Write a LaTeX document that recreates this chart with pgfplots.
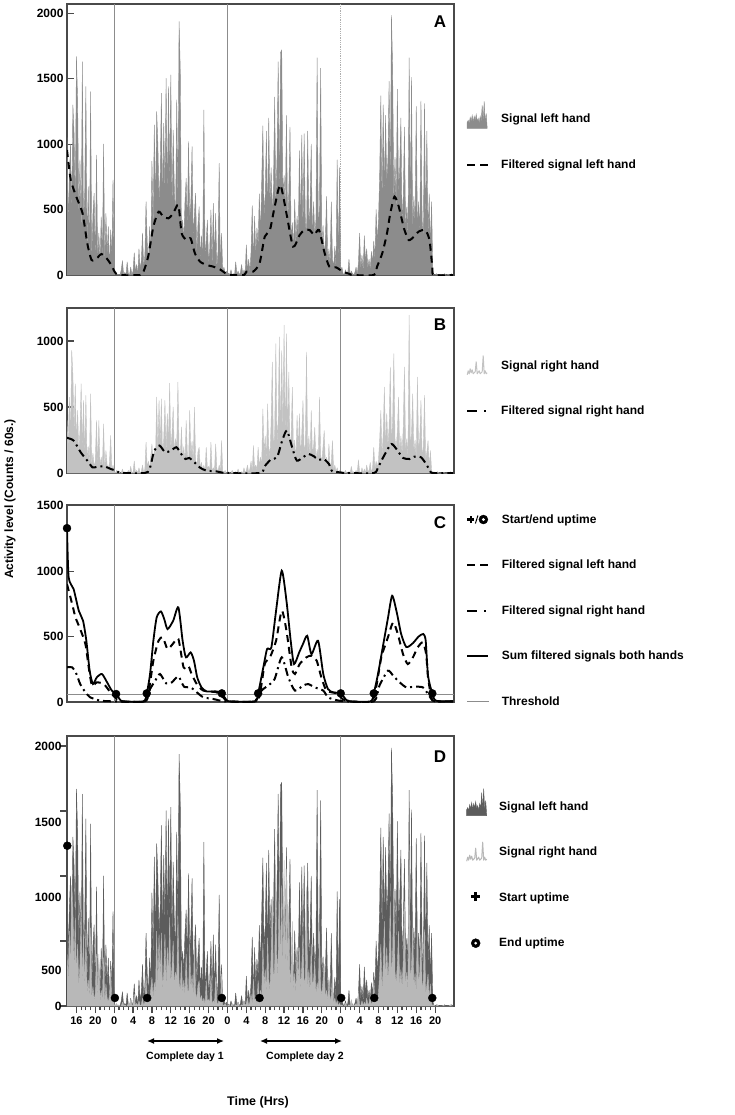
\documentclass[border=0pt]{standalone}
\usepackage{fontspec}
\setmainfont{Liberation Sans}
\usepackage{pgfplots}
\usepackage{pgfplotstable}
\pgfplotsset{compat=1.18}
\usetikzlibrary{arrows.meta}
\definecolor{sigA}{HTML}{8C8C8C}
\definecolor{sigB}{HTML}{C2C2C2}
\definecolor{sigDL}{HTML}{5C5C5C}
\definecolor{sigDR}{HTML}{B8B8B8}
\definecolor{frame}{HTML}{4A4A4A}
\definecolor{dayline}{HTML}{8C8C8C}

% raw signals, sampled every 15 min: time (h), left hand, right hand
\pgfplotstableread{
t L R
14.00 1050 400
14.25 380 200
14.50 760 575
14.75 1000 280
15.00 450 930
15.25 1300 740
15.50 1080 300
15.75 520 676
16.00 1669 220
16.25 1338 474
16.50 430 150
16.75 880 320
17.00 300 676
17.25 1630 180
17.50 350 550
17.75 625 120
18.00 1440 588
18.25 180 90
18.50 675 200
18.75 90 60
19.00 1401 600
19.25 120 70
19.50 470 150
19.75 625 40
20.00 60 100
20.25 917 398
20.50 110 50
20.75 320 398
21.00 70 30
21.25 445 120
21.50 90 40
21.75 1001 372
22.00 60 20
22.25 470 170
22.50 150 60
22.75 370 30
23.00 40 80
23.25 345 284
23.50 120 20
23.75 726 60
24.00 30 10
24.25 0 0
24.50 10 20
24.75 0 0
25.00 5 10
25.25 0 0
25.50 40 0
25.75 110 30
26.00 0 0
26.25 20 10
26.50 0 0
26.75 100 0
27.00 10 20
27.25 0 0
27.50 60 50
27.75 0 0
28.00 30 10
28.25 170 90
28.50 20 0
28.75 80 20
29.00 0 0
29.25 200 40
29.50 40 0
29.75 110 10
30.00 320 60
30.25 60 0
30.50 150 30
30.75 560 233
31.00 250 40
31.25 90 90
31.50 370 20
31.75 160 130
32.00 870 220
32.25 350 60
32.50 1147 180
32.75 480 100
33.00 1249 575
33.25 1006 150
33.50 560 550
33.75 760 200
34.00 1389 562
34.25 500 120
34.50 1160 260
34.75 620 550
35.00 1503 160
35.25 540 450
35.50 1440 220
35.75 700 681
36.00 1529 180
36.25 480 300
36.50 1108 500
36.75 650 140
37.00 420 260
37.25 1338 200
37.50 560 689
37.75 1937 180
38.00 1567 120
38.25 300 349
38.50 420 90
38.75 260 200
39.00 560 80
39.25 739 398
39.50 330 150
39.75 1019 60
40.00 420 474
40.25 560 130
40.50 981 240
40.75 280 70
41.00 470 499
41.25 625 100
41.50 150 50
41.75 380 160
42.00 522 195
42.25 120 30
42.50 300 80
42.75 90 20
43.00 1261 60
43.25 140 10
43.50 260 195
43.75 420 30
44.00 80 50
44.25 200 20
44.50 497 233
44.75 60 10
45.00 548 40
45.25 110 15
45.50 471 220
45.75 50 30
46.00 180 10
46.25 854 60
46.50 40 20
46.75 318 246
47.00 20 10
47.25 60 0
47.50 10 20
47.75 30 0
48.00 0 0
48.25 15 10
48.50 0 0
48.75 40 0
49.00 0 20
49.25 10 0
49.50 0 0
49.75 100 10
50.00 5 0
50.25 30 30
50.50 0 0
50.75 20 0
51.00 80 10
51.25 0 0
51.50 40 40
51.75 10 0
52.00 230 20
52.25 30 60
52.50 120 0
52.75 20 30
53.00 180 90
53.25 530 10
53.50 80 208
53.75 450 40
54.00 150 60
54.25 360 20
54.50 220 195
54.75 620 50
55.00 300 120
55.25 700 60
55.50 1140 486
55.75 450 150
56.00 600 280
56.25 1100 90
56.50 380 524
56.75 1200 200
57.00 520 120
57.25 820 380
57.50 460 841
57.75 680 160
58.00 1360 300
58.25 540 980
58.50 900 220
58.75 1630 400
59.00 620 1031
59.25 1700 250
59.50 1720 927
59.75 580 300
60.00 760 1120
60.25 480 200
60.50 1220 1056
60.75 350 260
61.00 640 765
61.25 1130 150
61.50 250 300
61.75 400 650
62.00 180 120
62.25 580 250
62.50 220 90
62.75 450 436
63.00 280 180
63.25 950 449
63.50 330 120
63.75 1070 300
64.00 300 550
64.25 1080 160
64.50 420 220
64.75 260 917
65.00 1100 130
65.25 380 280
65.50 520 100
65.75 1000 474
66.00 240 150
66.25 560 200
66.50 300 347
66.75 420 90
67.00 1660 180
67.25 350 120
67.50 520 575
67.75 1580 140
68.00 200 80
68.25 380 200
68.50 130 322
68.75 280 60
69.00 600 120
69.25 90 40
69.50 200 220
69.75 70 30
70.00 560 80
70.25 120 246
70.50 60 20
70.75 220 60
71.00 50 10
71.25 880 40
71.50 90 0
71.75 820 20
72.00 30 0
72.25 60 10
72.50 10 0
72.75 0 0
73.00 40 20
73.25 0 0
73.50 20 0
73.75 120 10
74.00 0 0
74.25 30 50
74.50 10 0
74.75 0 10
75.00 20 0
75.25 60 20
75.50 0 0
75.75 90 100
76.00 320 10
76.25 40 0
76.50 150 40
76.75 30 0
77.00 300 30
77.25 100 0
77.50 200 60
77.75 50 10
78.00 120 20
78.25 40 80
78.50 180 0
78.75 90 40
79.00 260 195
79.25 120 30
79.50 500 90
79.75 250 40
80.00 420 100
80.25 760 250
80.50 1370 474
80.75 520 120
81.00 1300 300
81.25 600 651
81.50 1220 180
81.75 700 450
82.00 880 200
82.25 1480 350
82.50 640 803
82.75 1985 220
83.00 1580 400
83.25 560 904
83.50 900 260
83.75 480 180
84.00 1420 320
84.25 620 575
84.50 820 150
84.75 1200 280
85.00 380 140
85.25 600 350
85.50 1130 803
85.75 350 160
86.00 520 260
86.25 300 120
86.50 1660 1196
86.75 480 200
87.00 1510 300
87.25 320 600
87.50 600 150
87.75 380 250
88.00 1290 100
88.25 340 727
88.50 560 180
88.75 300 260
89.00 1330 550
89.25 420 120
89.50 280 200
89.75 1310 588
90.00 360 90
90.25 1100 160
90.50 300 246
90.75 620 40
91.00 200 170
91.25 560 20
91.50 40 0
91.75 0 10
92.00 0 0
92.25 10 0
92.50 0 10
92.75 0 0
93.00 0 0
93.25 5 0
93.50 0 0
93.75 0 5
94.00 10 0
94.25 0 0
94.50 0 0
94.75 5 0
95.00 0 0
95.25 0 10
95.50 10 0
95.75 0 0
}\sig

\pgfplotstableread{
t v
14.0 955
14.8 726
16.1 586
17.3 471
18.3 242
19.2 115
20.3 127
21.3 160
22.4 127
23.4 76
24.1 25
25.0 0
29.5 0
30.2 25
31.2 140
32.3 369
33.4 484
34.4 446
35.5 433
36.5 471
37.6 535
38.3 318
39.4 267
40.2 280
41.1 166
42.2 102
43.6 76
45.0 64
46.4 43
47.8 8
48.5 0
51.5 0
52.0 25
53.4 25
54.8 89
55.9 293
57.0 344
58.0 522
59.2 688
60.5 471
61.9 217
63.3 306
64.3 344
65.4 344
66.4 306
67.4 344
68.6 166
69.6 64
71.0 59
72.5 25
73.9 8
74.5 0
79.0 0
79.7 64
80.8 166
81.8 318
82.5 471
83.4 599
84.3 522
85.4 357
86.4 267
87.5 293
88.5 331
89.9 344
90.8 267
91.4 64
91.7 0
95.8 0
}\filtA

\pgfplotstableread{
t v
14.0 266
15.4 246
16.9 157
18.3 94
19.4 43
20.5 48
21.9 51
23.3 30
24.4 18
25.5 0
30.5 0
31.5 30
32.5 170
33.6 208
34.8 157
36.0 170
37.2 195
38.2 144
39.1 106
39.9 114
41.0 81
42.1 43
43.5 18
45.6 13
47.7 0
55.0 0
55.7 43
57.1 99
58.5 119
59.6 246
60.6 322
61.7 195
62.7 94
64.2 124
65.2 144
66.3 127
67.3 99
68.4 106
69.5 68
70.2 13
71.9 5
73.0 0
79.0 0
79.9 43
81.3 139
82.7 220
83.8 182
85.2 114
86.6 106
87.6 124
89.0 119
90.1 68
91.1 5
92.0 0
95.8 0
}\filtB

\pgfplotstableread{
t v
14.0 900
15.1 748
15.8 646
16.8 557
17.9 443
18.6 265
19.3 125
20.3 150
21.8 137
23.2 74
24.2 36
25.3 5
30.5 5
31.3 74
32.3 316
33.4 468
34.3 494
35.3 405
36.4 443
37.6 481
38.7 265
39.7 277
40.4 214
41.5 137
42.9 87
45.7 74
47.1 36
48.2 5
53.5 5
54.9 74
55.9 290
57.0 341
58.3 468
59.5 697
60.5 545
61.6 265
62.3 214
63.3 290
64.7 341
65.8 354
66.9 316
67.9 188
69.0 87
71.1 66
72.5 20
73.9 5
78.5 5
79.5 112
80.6 341
82.0 494
83.1 608
84.1 519
85.2 366
86.2 290
87.3 341
88.3 417
89.4 456
90.1 366
90.5 188
91.2 36
91.9 5
95.8 5
}\cL

\pgfplotstableread{
t v
14.0 265
15.1 265
16.0 214
16.8 137
17.9 74
18.9 36
19.9 23
21.0 10
24.0 5
30.5 5
31.6 99
32.7 163
33.7 214
35.0 143
36.2 150
37.6 196
38.8 117
40.2 112
41.5 74
42.9 36
45.0 23
47.5 5
54.0 5
55.2 87
56.6 125
58.0 176
59.5 341
60.9 188
62.3 87
64.0 125
65.1 137
66.5 112
68.3 87
69.3 36
71.0 15
73.0 5
79.0 5
80.2 125
82.0 239
83.1 201
84.5 150
85.9 112
87.6 117
89.4 112
90.5 61
91.2 23
92.0 5
95.8 5
}\cR

\pgfplotstableread{
t v
14.0 1328
14.35 952
15.4 863
16.5 697
17.4 621
18.1 468
18.8 239
19.5 137
20.3 188
21.4 214
22.5 150
23.5 87
24.4 61
25.3 15
26.0 5
30.2 5
30.9 66
31.6 214
32.3 468
33.0 646
33.9 692
34.6 634
35.3 557
36.5 621
37.6 723
38.5 468
39.2 341
40.2 379
40.9 316
41.6 188
42.5 112
43.6 81
45.7 81
46.8 66
47.8 15
48.5 5
53.8 5
54.5 66
55.6 265
56.4 405
57.3 417
58.3 697
59.5 1003
60.5 774
61.4 468
62.1 290
63.2 379
64.0 443
64.9 506
65.8 366
67.2 468
68.3 214
69.3 99
70.4 74
72.0 66
73.2 15
74.0 5
78.3 5
79.0 66
79.9 214
80.9 417
82.0 640
82.9 812
83.9 680
84.8 520
85.9 420
87.3 450
88.5 500
89.5 520
90.0 470
90.5 200
91.4 66
92.2 10
95.8 5
}\cS

\pgfplotstableread{
t v
14.0 1328
24.4 61
30.9 66
46.8 66
54.5 66
72.0 66
79.0 66
91.4 66
}\cDots

\pgfplotstableread{
t v
14.06 1233
24.15 62
31.0 62
46.8 62
54.8 62
72.1 62
79.1 62
91.4 62
}\dDots

\newcommand\lbl{\fontsize{12}{14}\selectfont\bfseries}
% invisible box that gives every legend row the same height
\newcommand\lbox{\path[draw=none, fill=none] (0pt,-10pt) -- (0pt,19pt);}

\pgfplotsset{
  panel/.style={
    scale only axis, width=387pt, xmin=14, xmax=96,
    axis line style={frame, line width=1.4pt},
    xtick=\empty,
    tick style={frame, line width=1.2pt},
    major tick length=7pt,
    ytick pos=left,
    yticklabel style={font=\lbl},
    clip mode=individual,
    legend cell align=left,
    legend style={draw=none, fill=none, inner sep=0pt, row sep=16.5pt,
      column sep=12pt, font=\lbl, nodes={inner sep=0pt}, anchor=west, xshift=12pt, yshift=3pt},
  },
  sigplot/.style={line width=0.4pt, sharp plot, line join=round},
  fdash/.style={black, line width=2pt, dash pattern=on 7pt off 5pt, smooth, tension=0.4},
  fdashdot/.style={black, line width=2pt, dash pattern=on 8pt off 4pt on 2pt off 4pt, smooth, tension=0.4},
  fsum/.style={black, line width=1.8pt, smooth, tension=0.4},
  iconA/.style={legend image code/.code={\lbox
    \fill[sigA] (0pt,-9pt) -- (0pt,-3pt) -- (1pt,-1pt) -- (2pt,-4pt) -- (3pt,2pt) -- (4pt,-2pt) -- (5pt,4pt) -- (6pt,-3pt) -- (7pt,3pt) -- (8pt,-1pt) -- (9pt,5pt) -- (10pt,-2pt) -- (11pt,1pt) -- (12pt,-4pt) -- (13pt,3pt) -- (14pt,-2pt) -- (15pt,14pt) -- (16pt,-3pt) -- (17pt,18pt) -- (18pt,-4pt) -- (19pt,6pt) -- (20pt,-9pt) -- cycle;}},
  iconDL/.style={legend image code/.code={\lbox
    \fill[sigDL] (0pt,-9pt) -- (0pt,-3pt) -- (1pt,-1pt) -- (2pt,-4pt) -- (3pt,2pt) -- (4pt,-2pt) -- (5pt,4pt) -- (6pt,-3pt) -- (7pt,3pt) -- (8pt,-1pt) -- (9pt,5pt) -- (10pt,-2pt) -- (11pt,1pt) -- (12pt,-4pt) -- (13pt,3pt) -- (14pt,-2pt) -- (15pt,14pt) -- (16pt,-3pt) -- (17pt,18pt) -- (18pt,-4pt) -- (19pt,6pt) -- (20pt,-9pt) -- cycle;}},
  iconB/.style={legend image code/.code={\lbox
    \draw[sigB, line width=1pt, line join=round] (0pt,-9pt) -- (1pt,-5pt) -- (2pt,-8pt) -- (3pt,-3pt) -- (4pt,-7pt) -- (5pt,-4pt) -- (6pt,-8pt) -- (8pt,-6pt) -- (9pt,4pt) -- (10pt,-8pt) -- (12pt,-5pt) -- (13pt,-8pt) -- (15pt,-6pt) -- (16pt,10pt) -- (17pt,-8pt) -- (18pt,-5pt) -- (19pt,-8pt) -- (20pt,-7pt);}},
  iconDR/.style={legend image code/.code={\lbox
    \draw[sigDR, line width=1pt, line join=round] (0pt,-9pt) -- (1pt,-5pt) -- (2pt,-8pt) -- (3pt,-3pt) -- (4pt,-7pt) -- (5pt,-4pt) -- (6pt,-8pt) -- (8pt,-6pt) -- (9pt,4pt) -- (10pt,-8pt) -- (12pt,-5pt) -- (13pt,-8pt) -- (15pt,-6pt) -- (16pt,10pt) -- (17pt,-8pt) -- (18pt,-5pt) -- (19pt,-8pt) -- (20pt,-7pt);}},
  dashicon/.style={legend image code/.code={\lbox\draw[black, line width=2pt, dash pattern=on 8pt off 5pt] (0pt,0pt) -- (21pt,0pt);}},
  dashdoticon/.style={legend image code/.code={\lbox\draw[black, line width=2pt, dash pattern=on 10pt off 7pt on 2pt off 4pt] (0pt,0pt) -- (21pt,0pt);}},
}

\begin{document}
\begin{tikzpicture}
\useasboundingbox (0pt,0pt) rectangle (734pt,-1115pt);

% ---------------- Panel A ----------------
\begin{axis}[panel, at={(67pt,-275pt)}, anchor=south west, height=271pt,
  ymin=0, ymax=2071, ytick={0,500,1000,1500,2000}, yticklabels={0,500,1000,1500,2000},
  legend style={at={(1,0.496)}}]
\addlegendimage{iconA}
\addlegendentry{Signal left hand}
\addlegendimage{dashicon}
\addlegendentry{Filtered signal left hand}
\draw[dayline, line width=0.9pt] (axis cs:24,0) -- (axis cs:24,2071);
\draw[dayline, line width=0.9pt] (axis cs:48,0) -- (axis cs:48,2071);
\draw[dayline!70, line width=0.8pt, densely dotted] (axis cs:72,0) -- (axis cs:72,2071);
\addplot[draw=sigA, fill=sigA, sigplot, forget plot] table[x=t, y=L] {\sig} \closedcycle;
\addplot[fdash, forget plot] table[x=t, y=v] {\filtA};
\node[font=\fontsize{17}{17}\selectfont\bfseries] at (rel axis cs:0.964,0.934) {A};
\end{axis}

% ---------------- Panel B ----------------
\begin{axis}[panel, at={(67pt,-473pt)}, anchor=south west, height=165pt,
  ymin=0, ymax=1250, ytick={0,500,1000}, yticklabels={0,500,1000},
  legend style={at={(1,0.521)}}]
\addlegendimage{iconB}
\addlegendentry{Signal right hand}
\addlegendimage{dashdoticon}
\addlegendentry{Filtered signal right hand}
\draw[dayline, line width=0.9pt] (axis cs:24,0) -- (axis cs:24,1250);
\draw[dayline, line width=0.9pt] (axis cs:48,0) -- (axis cs:48,1250);
\draw[dayline, line width=0.9pt] (axis cs:72,0) -- (axis cs:72,1250);
\addplot[draw=sigB, fill=sigB, sigplot, forget plot] table[x=t, y=R] {\sig} \closedcycle;
\addplot[fdashdot, forget plot] table[x=t, y=v] {\filtB};
\node[font=\fontsize{17}{17}\selectfont\bfseries] at (rel axis cs:0.964,0.897) {B};
\end{axis}

% ---------------- Panel C ----------------
\begin{axis}[panel, at={(67pt,-702pt)}, anchor=south west, height=197pt,
  ymin=0, ymax=1505, ytick={0,500,1000,1500}, yticklabels={0,500,1000,1500},
  legend style={at={(1,0.472)}}]
\addlegendimage{legend image code/.code={\lbox
  \draw[black, line width=2.4pt] (0pt,0pt) -- (7pt,0pt) (3.5pt,-3.5pt) -- (3.5pt,3.5pt);
  \draw[black, line width=1pt] (8pt,-4pt) -- (10.5pt,4pt);
  \fill[black] (16pt,0pt) circle (4.5pt);
  \fill[white] (16pt,0pt) circle (1.3pt);}}
\addlegendentry{Start/end uptime}
\addlegendimage{dashicon}
\addlegendentry{Filtered signal left hand}
\addlegendimage{dashdoticon}
\addlegendentry{Filtered signal right hand}
\addlegendimage{legend image code/.code={\lbox\draw[black, line width=2pt] (0pt,0pt) -- (21pt,0pt);}}
\addlegendentry{Sum filtered signals both hands}
\addlegendimage{legend image code/.code={\lbox\draw[sigA, line width=0.8pt] (0pt,0pt) -- (22pt,0pt);}}
\addlegendentry{Threshold}
\draw[dayline, line width=0.9pt] (axis cs:24,0) -- (axis cs:24,1505);
\draw[dayline, line width=0.9pt] (axis cs:48,0) -- (axis cs:48,1505);
\draw[dayline, line width=0.9pt] (axis cs:72,0) -- (axis cs:72,1505);
\addplot[sigA, line width=0.8pt, forget plot] coordinates {(14,60) (96,60)};
\addplot[fdash, forget plot] table[x=t, y=v] {\cL};
\addplot[fdashdot, forget plot] table[x=t, y=v] {\cR};
\addplot[fsum, forget plot] table[x=t, y=v] {\cS};
\addplot[only marks, mark=*, mark size=4pt, black, forget plot] table[x=t, y=v] {\cDots};
\node[font=\fontsize{17}{17}\selectfont\bfseries] at (rel axis cs:0.964,0.909) {C};
\end{axis}

% ---------------- Panel D ----------------
\begin{axis}[panel, at={(67pt,-1006pt)}, anchor=south west, height=270pt,
  ymin=0, ymax=2077, ytick={0,500,1000,1500,2000}, yticklabels={0,{},{},{},2000},
  extra y ticks={277,838,1415}, extra y tick labels={500,1000,1500},
  extra y tick style={tick style={draw=none}},
  tick align=outside,
  xtick={16,20,...,92},
  xticklabels={16,20,0,4,8,12,16,20,0,4,8,12,16,20,0,4,8,12,16,20},
  xtick pos=bottom,
  minor x tick num=3, minor tick length=4pt,
  xticklabel style={font=\fontsize{11}{13}\selectfont\bfseries},
  yticklabel style={xshift=5pt},
  legend style={at={(1,0.491)}}]
\addlegendimage{iconDL}
\addlegendentry{Signal left hand}
\addlegendimage{iconDR}
\addlegendentry{Signal right hand}
\addlegendimage{legend image code/.code={\lbox
  \draw[black, line width=2.8pt] (4.5pt,1pt) -- (13.5pt,1pt) (9pt,-3.5pt) -- (9pt,5.5pt);}}
\addlegendentry{Start uptime}
\addlegendimage{legend image code/.code={\lbox
  \fill[black] (9pt,0pt) circle (4.5pt);
  \fill[white] (9pt,0pt) circle (1.2pt);}}
\addlegendentry{End uptime}
\draw[dayline, line width=0.9pt] (axis cs:24,0) -- (axis cs:24,2077);
\draw[dayline, line width=0.9pt] (axis cs:48,0) -- (axis cs:48,2077);
\draw[dayline, line width=0.9pt] (axis cs:72,0) -- (axis cs:72,2077);
\addplot[draw=sigDL, fill=sigDL, sigplot, forget plot] table[x=t, y=L] {\sig} \closedcycle;
\addplot[draw=sigDR, fill=sigDR, sigplot, forget plot] table[x=t, y=R] {\sig} \closedcycle;
\addplot[only marks, mark=*, mark size=4pt, black, forget plot] table[x=t, y=v] {\dDots};
\node[font=\fontsize{17}{17}\selectfont\bfseries] at (rel axis cs:0.964,0.922) {D};
\end{axis}

% annotations
\draw[{Latex[length=7pt,width=6pt]}-{Latex[length=7pt,width=6pt]}, line width=1.3pt] (147pt,-1041pt) -- (224pt,-1041pt);
\draw[{Latex[length=7pt,width=6pt]}-{Latex[length=7pt,width=6pt]}, line width=1.3pt] (260pt,-1041pt) -- (342pt,-1041pt);
\node[font=\fontsize{10.5}{12}\selectfont\bfseries] at (185pt,-1057pt) {Complete day 1};
\node[font=\fontsize{10.5}{12}\selectfont\bfseries] at (305pt,-1057pt) {Complete day 2};
\node[font=\fontsize{12.5}{14}\selectfont\bfseries] at (258pt,-1102pt) {Time (Hrs)};
\node[rotate=90, font=\fontsize{12}{14}\selectfont\bfseries] at (10pt,-499pt) {Activity level (Counts / 60s.)};
\end{tikzpicture}
\end{document}
